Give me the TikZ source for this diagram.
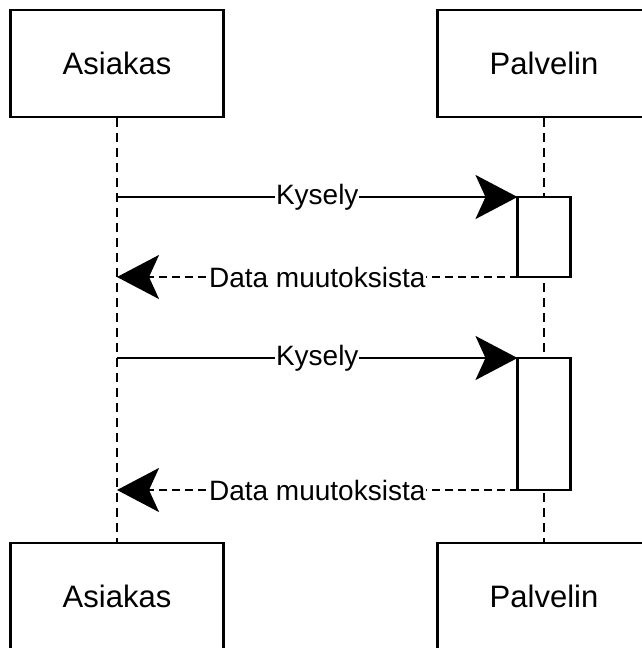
\documentclass[tikz,border=0pt]{standalone}
\usepackage{fontspec}
\setmainfont{Liberation Sans}
\usetikzlibrary{arrows.meta}
\begin{document}
\begin{tikzpicture}[x=1pt,y=-1pt,
  party/.style={draw, line width=2.4pt, fill=white, minimum width=213pt,
    minimum height=107pt, inner sep=0pt, font=\fontsize{31}{37}\selectfont},
  activation/.style={draw, line width=2.4pt, fill=white, minimum width=53pt,
    inner sep=0pt, outer sep=0pt},
  lifeline/.style={line width=2.4pt, dash pattern=on 9pt off 6pt},
  msg/.style={line width=2.4pt, -{Stealth[length=42pt,width=44pt,inset=10pt]}},
  reply/.style={msg, dash pattern=on 8pt off 5pt},
  msglabel/.style={fill=white, inner sep=1pt, font=\fontsize{28}{34}\selectfont}]
  % page frame
  \clip (0,0) rectangle (642,648);
  \fill[white] (0,0) rectangle (642,648);

  % participants, top and bottom
  \node[party] (aT) at (117,63.5) {Asiakas};
  \node[party] (pT) at (544,63.5) {Palvelin};
  \node[party] (aB) at (117,596.5) {Asiakas};
  \node[party] (pB) at (544,596.5) {Palvelin};

  % lifelines
  \draw[lifeline] (aT.south) -- (aB.north);
  \draw[lifeline] (pT.south) -- (pB.north);

  % activation bars on the server
  \node[activation, minimum height=80pt] (act1) at (544,237) {};
  \node[activation, minimum height=132pt] (act2) at (544,424) {};

  % first request / reply
  \coordinate (q1) at (aT.south |- act1.north west);
  \coordinate (r1) at (aT.south |- act1.south west);
  \draw[msg] (q1) -- node[msglabel] {Kysely} (act1.north west);
  \draw[reply] (act1.south west) -- node[msglabel] {Data muutoksista} (r1);

  % second request / reply
  \coordinate (q2) at (aT.south |- act2.north west);
  \coordinate (r2) at (aT.south |- act2.south west);
  \draw[msg] (q2) -- node[msglabel] {Kysely} (act2.north west);
  \draw[reply] (act2.south west) -- node[msglabel] {Data muutoksista} (r2);
\end{tikzpicture}
\end{document}
